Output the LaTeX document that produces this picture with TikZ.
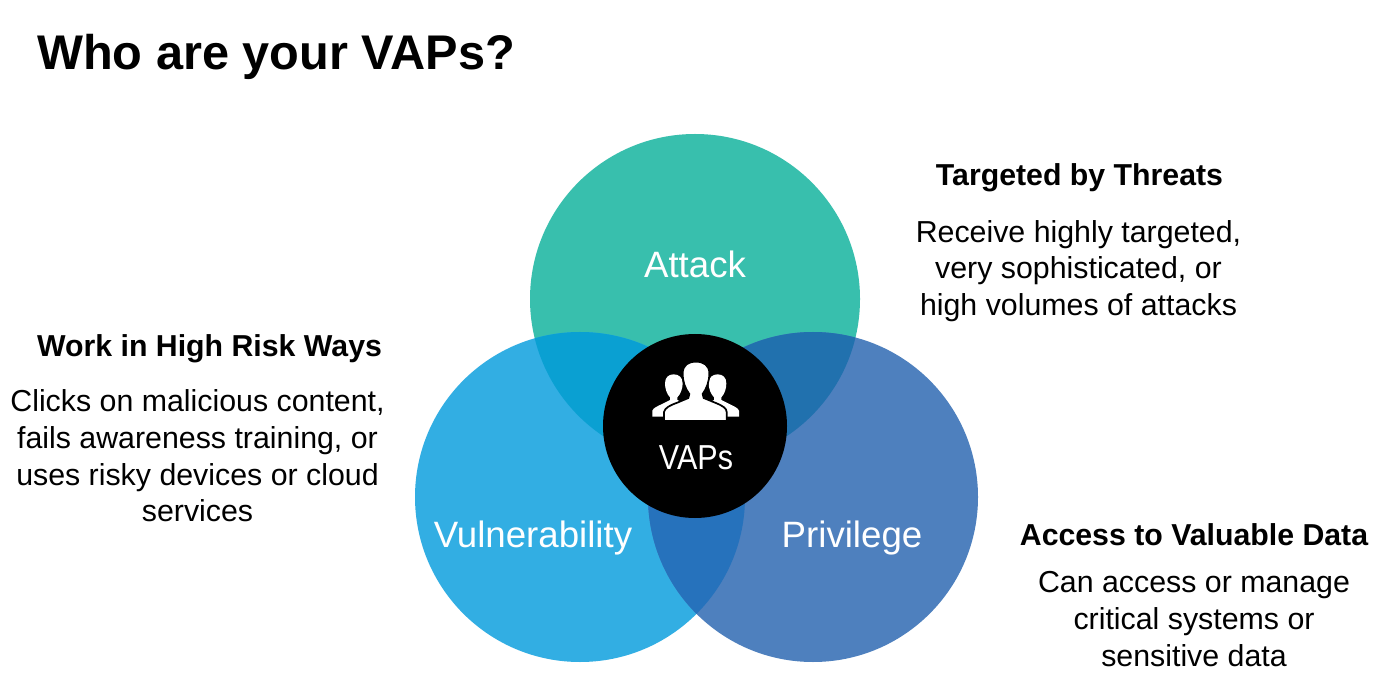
\documentclass[tikz,border=0pt]{standalone}
\usepackage{fontspec}
\usepackage{graphicx}
\setmainfont{Liberation Sans}
\definecolor{cA}{HTML}{38BFAD}
\definecolor{cV}{HTML}{32AEE3}
\definecolor{cP}{HTML}{4E80BE}
\definecolor{cAV}{HTML}{0AA0D2}
\definecolor{cAP}{HTML}{2171AE}
\definecolor{cVP}{HTML}{2672BC}
\tikzset{
 head/.style={font=\fontsize{22.7}{27}\selectfont\bfseries,align=center,inner sep=0},
 body/.style={font=\fontsize{22.75}{27.5}\selectfont,align=center,inner sep=0},
 lab/.style={font=\fontsize{27.5}{32}\selectfont,text=white,inner sep=0},
}
\newcommand{\sideperson}{%
 (187,290) -- (187,272) .. controls (190,264) and (200,260) .. (212,254) -- (240,240) -- (240,232)
 .. controls (230,222) and (225,205) .. (225,190) .. controls (225,172) and (236,163) .. (251,163)
 .. controls (266,163) and (278,172) .. (278,190) .. controls (278,205) and (272,222) .. (262,232)
 -- (262,240) -- (290,254) -- (290,290) -- cycle}
\begin{document}
\begin{tikzpicture}[x=0.75pt,y=-0.75pt]
\useasboundingbox (0,0) rectangle (1384,698);
\fill[white] (0,0) rectangle (1384,698);
\def\cAx{695}\def\cAy{299}\def\cVx{580}\def\cVy{497}\def\cPx{813}\def\cPy{497}\def\rr{165}
\fill[cA] (\cAx,\cAy) circle (\rr);
\fill[cV] (\cVx,\cVy) circle (\rr);
\fill[cP] (\cPx,\cPy) circle (\rr);
\begin{scope}\clip (\cAx,\cAy) circle (\rr); \fill[cAV] (\cVx,\cVy) circle (\rr); \fill[cAP] (\cPx,\cPy) circle (\rr);\end{scope}
\begin{scope}\clip (\cVx,\cVy) circle (\rr); \fill[cVP] (\cPx,\cPy) circle (\rr);\end{scope}
\fill[black] (695,426) circle (92);
% people icon, in units of a 3x crop
\begin{scope}[shift={(590,320)},x=0.25pt,y=-0.25pt]
\fill[white] \sideperson;
\begin{scope}[xshift=158.5pt,xscale=-1]
\fill[white] \sideperson;
\end{scope}
\filldraw[fill=white,draw=black,line width=1.3pt]
 (222,303) -- (222,276) .. controls (225,263) and (240,256) .. (262,248) -- (295,234) -- (298,222)
 .. controls (285,205) and (278,185) .. (278,160) .. controls (278,135) and (295,125) .. (318,125)
 .. controls (340,125) and (358,135) .. (358,160) .. controls (358,185) and (350,205) .. (338,222)
 -- (341,234) -- (375,248) .. controls (398,257) and (410,265) .. (410,276) -- (410,303) -- cycle;
\end{scope}
\node[font=\fontsize{26}{30}\selectfont,text=white,inner sep=0] (vaps) at (696,458) {\scalebox{.88}[1]{VAPs}};
\node[lab] (attack) at (695,264) {Attack};
\node[lab] (vuln) at (533,538) {Vulnerability};
\node[lab] (priv) at (852,538) {Privilege};
\node[font=\fontsize{36.5}{42}\selectfont\bfseries,anchor=west,inner sep=0] (title) at (37,57) {Who are your VAPs?};
\node[head] (h1) at (1079.5,178) {Targeted by Threats};
\node[body] (b1) at (1078.5,271) {Receive highly targeted,\\very sophisticated, or\\high volumes of attacks};
\node[head] (h2) at (209.5,349) {Work in High Risk Ways};
\node[body] (b2) at (197.5,456) {Clicks on malicious content,\\fails awareness training, or\\uses risky devices or cloud\\services};
\node[head] (h3) at (1194,535) {Access to Valuable Data};
\node[body] (b3) at (1194,619) {Can access or manage\\critical systems or\\sensitive data};
\end{tikzpicture}
\end{document}
